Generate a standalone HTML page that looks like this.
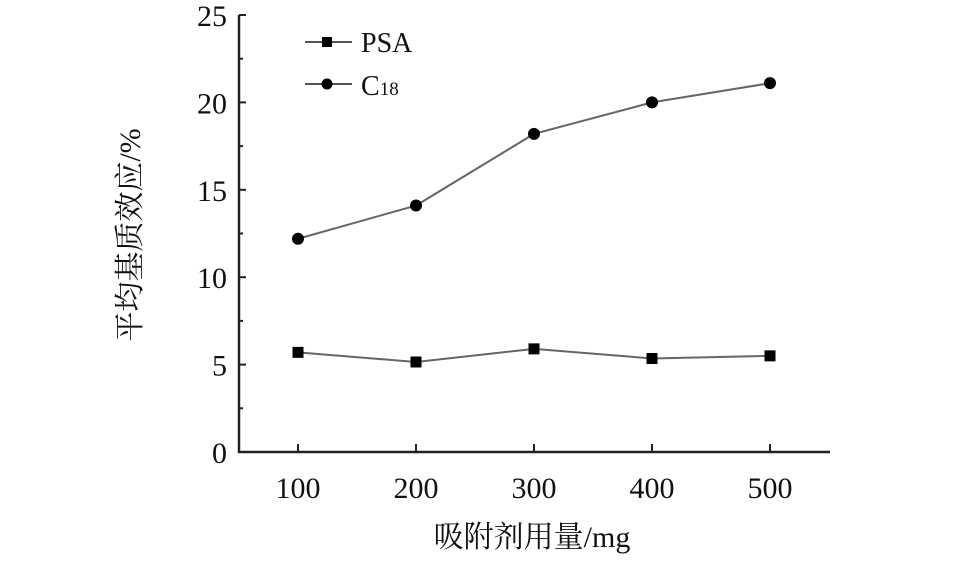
<!DOCTYPE html>
<html><head><meta charset="utf-8"><style>
html,body{margin:0;padding:0;background:#fff;}
svg{display:block;font-family:"Liberation Serif","Noto Serif CJK SC",serif;}
</style></head><body>
<svg id="chart" width="958" height="561" viewBox="0 0 958 561">
<g id="axes"></g><g id="series"></g>
<g>
 <g>
  <line x1="305" y1="42" x2="352" y2="42" stroke="#555" stroke-width="2"/>
  <rect x="322" y="37" width="10" height="10" fill="#000"/>
  <text x="361" y="52" font-size="28" fill="#111">PSA</text>
 </g>
 <g>
  <line x1="305" y1="84" x2="352" y2="84" stroke="#555" stroke-width="2"/>
  <circle cx="327" cy="84" r="5.5" fill="#000"/>
  <text x="361" y="95" font-size="28" fill="#111">C<tspan font-size="19">18</tspan></text>
 </g>
</g>
<text x="532" y="547" font-size="30" text-anchor="middle" fill="#111">吸附剂用量/mg</text>
<text x="0" y="0" font-size="30" text-anchor="middle" fill="#111" transform="translate(140,235) rotate(-90)">平均基质效应/%</text>
</svg>
<script>
const categories=[100,200,300,400,500];
const psaValues=[5.7,5.15,5.9,5.35,5.5];
const c18Values=[12.2,14.1,18.2,20.0,21.1];
const yTicks=[0,5,10,15,20,25];
const xTickLabels=["100","200","300","400","500"];
const NS="http://www.w3.org/2000/svg";
const x=v=>298+(v-100)*(472/400);
const y=v=>452-v*(437/25);
function mk(tag,attrs,parent){const e=document.createElementNS(NS,tag);for(const k in attrs)e.setAttribute(k,attrs[k]);parent.appendChild(e);return e;}
const axes=document.getElementById('axes'),series=document.getElementById('series');
let a=mk('path',{d:`M239,${y(25)} V452 H830`,fill:'none',stroke:'#222','stroke-width':2.5},axes);


yTicks.forEach(t=>{
 let l=mk('line',{x1:239,x2:246,y1:y(t),y2:y(t),stroke:'#222','stroke-width':2},axes);
 
 
 if(t<25){let m=mk('line',{x1:239,x2:243,y1:y(t+2.5),y2:y(t+2.5),stroke:'#222','stroke-width':2},axes);
 
 }
 let tx=mk('text',{x:227,y:y(t)+11,'font-size':30,'text-anchor':'end',fill:'#111'},axes);
 tx.textContent=t;
 
 
});
categories.forEach((c,i)=>{
 let l=mk('line',{x1:x(c),x2:x(c),y1:452,y2:444,stroke:'#222','stroke-width':2},axes);
 
 
 let tx=mk('text',{x:x(c),y:498,'font-size':30,'text-anchor':'middle',fill:'#111'},axes);
 tx.textContent=xTickLabels[i];
 
 
});
function draw(vals,name,shape){
 let p=mk('polyline',{points:categories.map((c,i)=>x(c)+','+y(vals[i])).join(' '),fill:'none',stroke:'#666','stroke-width':2},series);
 
 
 categories.forEach((c,i)=>{
  let m=shape==='sq'?mk('rect',{x:x(c)-5.5,y:y(vals[i])-5.5,width:11,height:11,fill:'#000'},series):mk('circle',{cx:x(c),cy:y(vals[i]),r:6,fill:'#000'},series);
  
  
 });
}
draw(psaValues,'psa','sq');
draw(c18Values,'c18','ci');
</script>
</body></html>
